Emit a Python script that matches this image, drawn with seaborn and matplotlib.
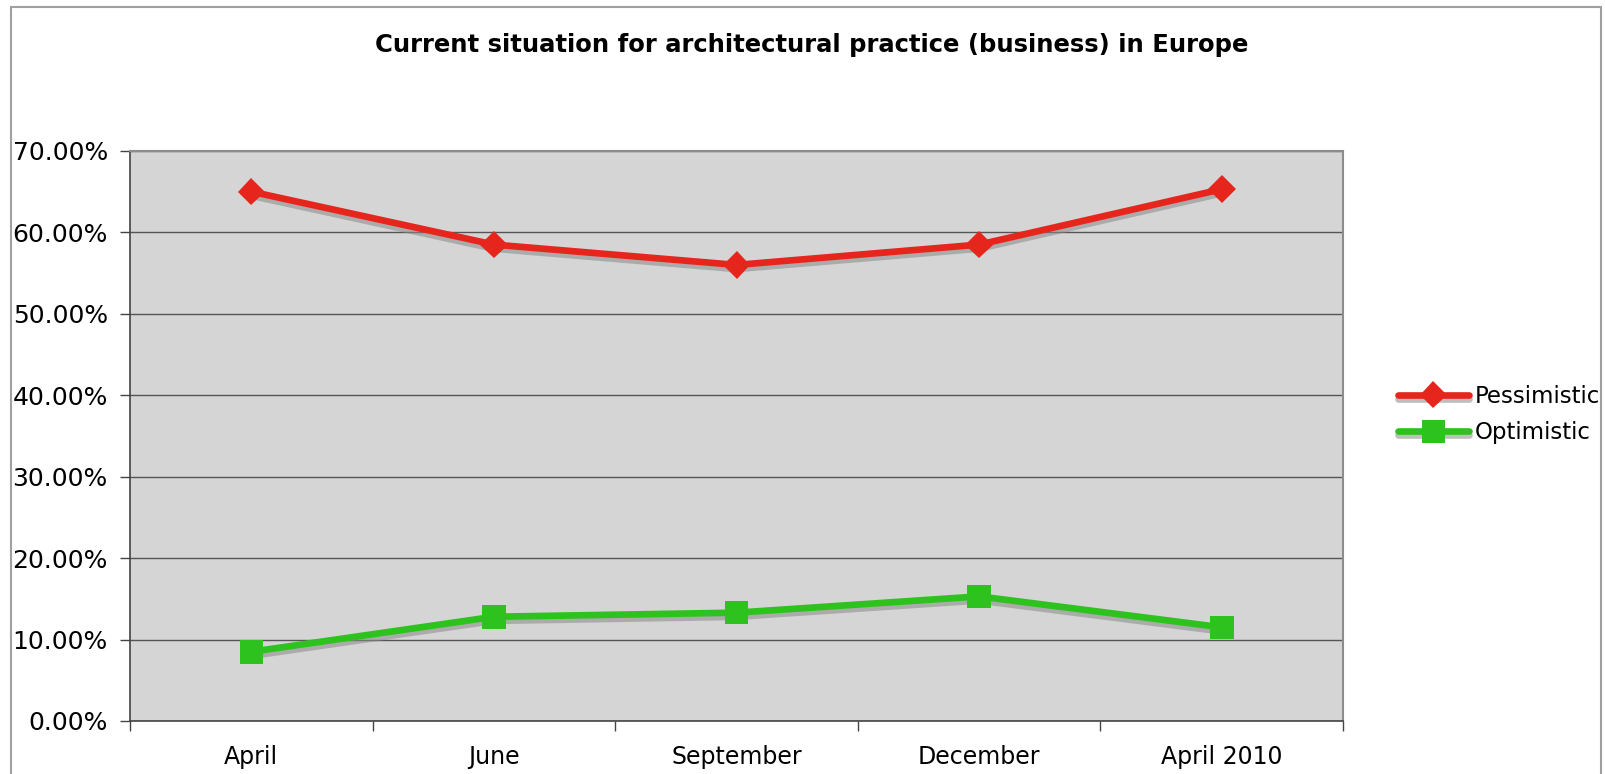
import pandas as pd
import matplotlib.pyplot as plt
import matplotlib.patheffects as pe
from matplotlib.ticker import FuncFormatter, FixedLocator
from matplotlib.patches import Rectangle
import seaborn as sns

# datos
months = ["April", "June", "September", "December", "April 2010"]
pessimistic = [65.0, 58.5, 56.0, 58.5, 65.3]
optimistic = [8.5, 12.8, 13.3, 15.3, 11.5]

df = pd.DataFrame({"month": months, "Pessimistic": pessimistic, "Optimistic": optimistic})

sns.set_style("white")
plt.rcParams["font.family"] = ["DejaVu Sans"]
plt.rcParams["text.color"] = "black"

fig = plt.figure(figsize=(16.05, 7.74), dpi=100)
ax = fig.add_axes([0.081, 0.0685, 0.7558, 0.7365])
ax.set_facecolor("#d5d5d5")

shadow = [pe.SimpleLineShadow(offset=(0, -3), shadow_color="#8a8a8a", alpha=0.55), pe.Normal()]

sns.lineplot(data=df, x="month", y="Pessimistic", ax=ax, sort=False, color="#e6261c",
             linewidth=4.8, marker="D", markersize=14, markeredgewidth=0,
             label="Pessimistic", path_effects=shadow)
sns.lineplot(data=df, x="month", y="Optimistic", ax=ax, sort=False, color="#2ec21f",
             linewidth=4.8, marker="s", markersize=17, markeredgewidth=0,
             label="Optimistic", path_effects=shadow)

# ejes
ax.set_xlim(-0.5, len(months) - 0.5)
ax.set_ylim(0, 70)
ax.set_yticks(range(0, 71, 10))
ax.yaxis.set_major_formatter(FuncFormatter(lambda v, p: f"{v:.2f}%"))
ax.set_xlabel("")
ax.set_ylabel("")
ax.grid(axis="y", color="#555555", linewidth=1)
ax.set_axisbelow(True)

ax.xaxis.set_minor_locator(FixedLocator([i - 0.5 for i in range(len(months) + 1)]))
ax.tick_params(axis="x", which="major", length=0, labelsize=17, pad=17, labelcolor="black")
ax.tick_params(axis="x", which="minor", length=7, color="#444444", width=1, direction="out")
ax.tick_params(axis="y", length=7, color="#444444", width=1, direction="out",
               labelsize=18, pad=9, labelcolor="black")
ax.tick_params(bottom=True, left=True, which="both")

for side in ["left", "bottom"]:
    ax.spines[side].set_color("#444444")
    ax.spines[side].set_linewidth(1.2)
for side in ["top", "right"]:
    ax.spines[side].set_color("#8c8c8c")
    ax.spines[side].set_linewidth(1.5)

fig.text(0.506, 0.942, "Current situation for architectural practice (business) in Europe",
         fontsize=17.5, fontweight="bold", ha="center", va="center")

handles, labels = ax.get_legend_handles_labels()
ax.get_legend().remove()
fig.legend(handles, labels, loc="center left", bbox_to_anchor=(0.871, 0.4645),
           frameon=False, fontsize=16.5, handlelength=3.1, handletextpad=0.25,
           labelspacing=0.6, borderpad=0, borderaxespad=0)

# marco exterior
fig.patches.append(Rectangle((11 / 1605, -0.05), 1590 / 1605, 1 - 7 / 774 + 0.05,
                             transform=fig.transFigure, fill=False,
                             edgecolor="#a0a0a0", linewidth=1.5))

plt.savefig("out.png", dpi=100)
